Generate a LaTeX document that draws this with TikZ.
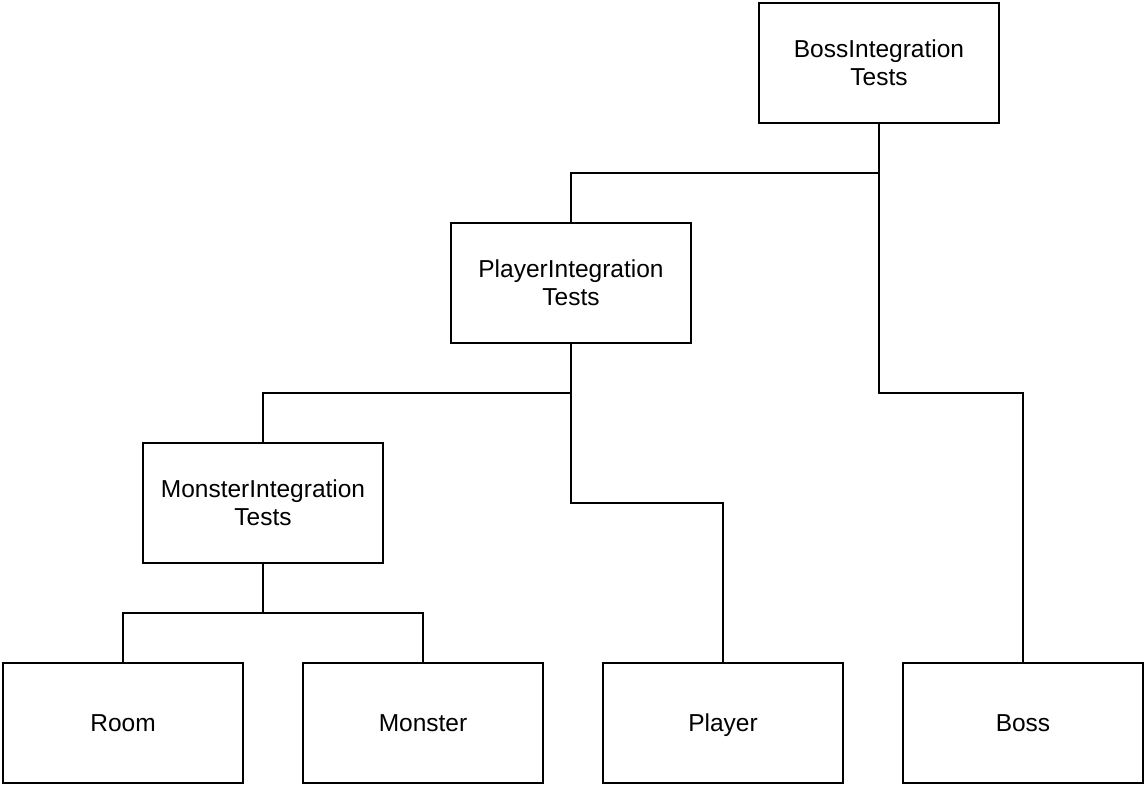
\documentclass[tikz,border=0pt]{standalone}
\usepackage{fontspec}
\setmainfont{Liberation Sans}
\begin{document}
\begin{tikzpicture}[x=1pt,y=-1pt,
  box/.style={draw=black,line width=2pt,minimum width=240pt,minimum height=120pt,inner sep=0pt,align=center,font=\fontsize{24.5}{28}\selectfont},
  single/.style={text height=17.5pt,text depth=0pt},
  conn/.style={draw=black,line width=2pt}]
\useasboundingbox (0,0) rectangle (1146,786);
\node[box] (bit) at (879,63) {BossIntegration\\Tests};
\node[box] (pit) at (571,283) {PlayerIntegration\\Tests};
\node[box] (mit) at (263,503) {MonsterIntegration\\Tests};
\node[box,single] (room) at (123,723) {Room};
\node[box,single] (monster) at (423,723) {Monster};
\node[box,single] (player) at (723,723) {Player};
\node[box,single] (boss) at (1023,723) {Boss};
\coordinate (j1) at (879,173);
\coordinate (j2) at (571,393);
\coordinate (j3) at (263,613);
\draw[conn] (bit.south) -- (j1) -| (pit.north);
\draw[conn] (j1) |- (1023,393) -- (boss.north);
\draw[conn] (pit.south) -- (j2) -| (mit.north);
\draw[conn] (j2) |- (723,503) -- (player.north);
\draw[conn] (mit.south) -- (j3) -| (room.north);
\draw[conn] (j3) -| (monster.north);
\end{tikzpicture}
\end{document}
